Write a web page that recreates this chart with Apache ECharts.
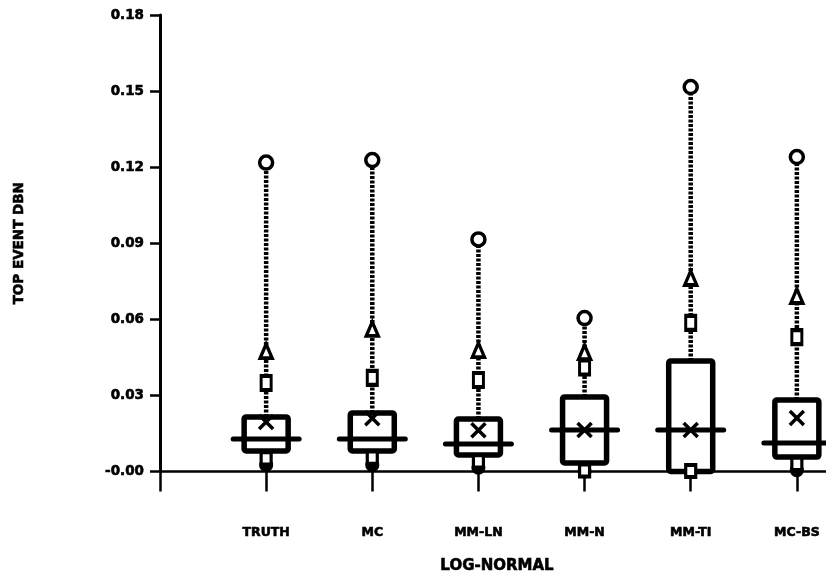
<!DOCTYPE html>
<html>
<head>
<meta charset="utf-8">
<script src="https://cdn.jsdelivr.net/npm/echarts@6/dist/echarts.min.js"></script>
<style>
  html, body { margin: 0; padding: 0; background: #fff; }
  #chart { width: 826px; height: 582px; }
</style>
</head>
<body>
<div id="chart"></div>
<script>
// Estimator categories for the log-normal case
const categories = ['TRUTH', 'MC', 'MM-LN', 'MM-N', 'MM-TI', 'MC-BS'];

// Distribution summaries of the top event, one value per category
const maxVals    = [0.1218, 0.1228, 0.0915, 0.0605, 0.1516, 0.1240];
const p95Vals    = [0.0475, 0.0562, 0.0479, 0.0471, 0.0763, 0.0692];
const p90Vals    = [0.0349, 0.0369, 0.0361, 0.0410, 0.0586, 0.0530];
const q3Vals     = [0.0215, 0.0231, 0.0207, 0.0294, 0.0436, 0.0282];
const meanVals   = [0.0195, 0.0210, 0.0163, 0.0164, 0.0164, 0.0211];
const medianVals = [0.0128, 0.0128, 0.0108, 0.0164, 0.0164, 0.0112];
const q1Vals     = [0.0081, 0.0081, 0.0065, 0.0034, 0.0000, 0.0057];
const p10Vals    = [0.0052, 0.0055, 0.0040, 0.0004, 0.0002, 0.0030];
const minVals    = [0.0025, 0.0025, 0.0015, 0.0000, 0.0000, 0.0005];

// Y tick labels, bottom to top
const yTickLabels = ['-0.00', '0.03', '0.06', '0.09', '0.12', '0.15', '0.18'];
const yTickStep = 0.03;

const xPos = categories.map((c, i) => i + 1);

const boxData = categories.map((c, i) => [
  xPos[i], q1Vals[i], q3Vals[i], medianVals[i], meanVals[i], maxVals[i], minVals[i]
]);

const pairs = (vals) => vals.map((v, i) => [xPos[i], v]);

const INK = '#000';
const FONT = 'DejaVu Sans';
// slight outline to thicken the heavy lettering
const heavy = { color: INK, fontFamily: FONT, fontWeight: 'bold', textBorderColor: INK, textBorderWidth: 0.6 };

function renderBox(params, api) {
  const x = api.value(0);
  const pQ1 = api.coord([x, api.value(1)]);
  const pQ3 = api.coord([x, api.value(2)]);
  const pMed = api.coord([x, api.value(3)]);
  const pMean = api.coord([x, api.value(4)]);
  const pMax = api.coord([x, api.value(5)]);
  const pMin = api.coord([x, api.value(6)]);
  const cx = pQ1[0];
  const halfBox = 22;
  const halfMed = 33;
  const xs = 7;
  return {
    type: 'group',
    children: [
      // upper whisker: beaded dotted line
      {
        type: 'line',
        shape: { x1: cx, y1: pQ3[1], x2: cx, y2: pMax[1] },
        style: { stroke: INK, lineWidth: 4.5, lineDash: [3, 1.5] }
      },
      // lower whisker
      {
        type: 'line',
        shape: { x1: cx, y1: pQ1[1], x2: cx, y2: pMin[1] },
        style: { stroke: INK, lineWidth: 4.5 }
      },
      // interquartile box
      {
        type: 'rect',
        shape: { x: cx - halfBox, y: pQ3[1], width: halfBox * 2, height: pQ1[1] - pQ3[1], r: 2 },
        style: { fill: '#fff', stroke: INK, lineWidth: 5.5 }
      },
      // median bar, wider than the box
      {
        type: 'line',
        shape: { x1: cx - halfMed, y1: pMed[1], x2: cx + halfMed, y2: pMed[1] },
        style: { stroke: INK, lineWidth: 5, lineCap: 'round' }
      },
      // mean cross
      {
        type: 'line',
        shape: { x1: cx - xs, y1: pMean[1] - xs, x2: cx + xs, y2: pMean[1] + xs },
        style: { stroke: INK, lineWidth: 3.5 }
      },
      {
        type: 'line',
        shape: { x1: cx - xs, y1: pMean[1] + xs, x2: cx + xs, y2: pMean[1] - xs },
        style: { stroke: INK, lineWidth: 3.5 }
      }
    ]
  };
}

const markerStyle = { color: '#fff', borderColor: INK, borderWidth: 3.5, opacity: 1 };

const chart = echarts.init(document.getElementById('chart'));
chart.setOption({
  animation: false,
  backgroundColor: '#fff',
  grid: { left: 160, right: -8, top: 15, bottom: 110.5, containLabel: false, outerBoundsMode: 'none' },
  xAxis: {
    type: 'value',
    min: 0,
    max: 6.35,
    interval: 1,
    splitLine: { show: false },
    axisLine: { show: true, onZero: false, lineStyle: { color: INK, width: 2.5 } },
    axisTick: { show: true, length: 20, lineStyle: { color: INK, width: 2.5 } },
    axisLabel: Object.assign({}, heavy, {
      margin: 55,
      fontSize: 12.5,
      formatter: (v) => (Number.isInteger(v) && v >= 1 && v <= categories.length) ? categories[v - 1] : ''
    }),
    name: 'LOG-NORMAL',
    nameLocation: 'middle',
    nameGap: 87,
    nameTextStyle: Object.assign({}, heavy, { fontSize: 15 })
  },
  yAxis: {
    type: 'value',
    min: 0,
    max: 0.18,
    interval: yTickStep,
    splitLine: { show: false },
    axisLine: { show: true, lineStyle: { color: INK, width: 3 } },
    axisTick: { show: true, length: 10, lineStyle: { color: INK, width: 2.5 } },
    axisLabel: Object.assign({}, heavy, {
      margin: 16,
      fontSize: 13.5,
      formatter: (v) => yTickLabels[Math.round(v / yTickStep)]
    }),
    name: 'TOP EVENT DBN',
    nameLocation: 'middle',
    nameRotate: 90,
    nameGap: 134,
    nameTextStyle: Object.assign({}, heavy, { fontSize: 13.5 })
  },
  series: [
    {
      type: 'custom',
      renderItem: renderBox,
      encode: { x: 0, y: [1, 2, 3, 4, 5, 6] },
      data: boxData,
      z: 2
    },
    {
      name: 'max', type: 'scatter', symbol: 'circle', symbolSize: 13,
      itemStyle: markerStyle, data: pairs(maxVals), z: 3
    },
    {
      name: 'p95', type: 'scatter', symbol: 'triangle', symbolSize: [12, 14],
      itemStyle: markerStyle, data: pairs(p95Vals), z: 3
    },
    {
      name: 'p90', type: 'scatter', symbol: 'rect', symbolSize: [10, 14],
      itemStyle: markerStyle, data: pairs(p90Vals), z: 3
    },
    {
      name: 'p10', type: 'scatter', symbol: 'rect', symbolSize: [10, 12],
      itemStyle: markerStyle, data: pairs(p10Vals), z: 4
    },
    {
      name: 'min', type: 'scatter', symbol: 'circle', symbolSize: 12,
      itemStyle: { color: INK, borderColor: INK, borderWidth: 2, opacity: 1 }, data: pairs(minVals), z: 3
    }
  ]
});
</script>
</body>
</html>
